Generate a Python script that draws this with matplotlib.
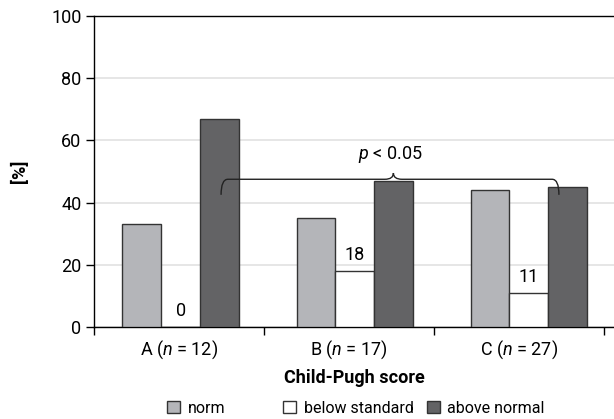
import numpy as np
import matplotlib
matplotlib.use("Agg")
import matplotlib.pyplot as plt
from matplotlib.path import Path
from matplotlib.patches import PathPatch, Patch

plt.rcParams["font.family"] = ["Roboto", "DejaVu Sans"]
plt.rcParams["mathtext.fontset"] = "custom"
plt.rcParams["mathtext.it"] = "Roboto:italic"
plt.rcParams["mathtext.rm"] = "Roboto"

groups     = [r"A ($\it{n}$ = 12)", r"B ($\it{n}$ = 17)", r"C ($\it{n}$ = 27)"]
norm       = [33, 35, 44]
below      = [0, 18, 11]
above      = [67, 47, 45]
series_lbl = ["norm", "below standard", "above normal"]
colors     = ["#b4b5b9", "#ffffff", "#636365"]
yticks     = [0, 20, 40, 60, 80, 100]

fig = plt.figure(figsize=(6.14, 4.19), dpi=100)
ax  = fig.add_axes([0.153, 0.2196, 0.847, 0.7422])

x  = np.arange(len(groups))
bx = x * 1.024 + 0.01      # bar groups sit slightly off the label centres, as in the original
bw = 0.228
for i, vals in enumerate([norm, below, above]):
    ax.bar(bx + (i - 1) * bw, vals, width=bw, color=colors[i], edgecolor="#333333", linewidth=1.0, zorder=3)

for xi, v in zip(bx, below):
    ax.annotate("%d" % v, (xi, v), xytext=(0, 5), textcoords="offset points",
                ha="center", va="bottom", fontsize=13, zorder=5)

# significance bracket between "above normal" bars of A and C
xa, xb, xc = bx[0] + bw + 0.01, bx[1] + bw, bx[2] + bw - 0.05
yb  = 47.5
hk  = 5.0
dx  = 0.04
verts = [(xa, yb - hk), (xa, yb), (xa + dx, yb),
         (xb - 0.05, yb), (xb, yb), (xb, yb + 2.0),
         (xb, yb), (xb + 0.05, yb),
         (xc - dx, yb), (xc, yb), (xc, yb - hk)]
codes = [Path.MOVETO, Path.CURVE3, Path.CURVE3,
         Path.LINETO, Path.CURVE3, Path.CURVE3,
         Path.CURVE3, Path.CURVE3,
         Path.LINETO, Path.CURVE3, Path.CURVE3]
ax.add_patch(PathPatch(Path(verts, codes), facecolor="none", edgecolor="#222222", lw=1.0, zorder=4))
ax.text(xb - 0.02, yb + 4.5, r"$\it{p}$ < 0.05", ha="center", va="bottom", fontsize=13)

ax.set_xlim(-0.5, 2.56)
ax.set_ylim(0, 100)
ax.set_yticks(yticks)
ax.tick_params(axis="y", labelsize=13, length=6, width=1.0, direction="out", pad=3)
ax.set_xticks(x)
ax.set_xticklabels(groups, fontsize=13)
ax.set_xticks([-0.5, 0.5, 1.5, 2.5], minor=True)
ax.tick_params(axis="x", which="major", length=0, pad=8)
ax.tick_params(axis="x", which="minor", length=6, width=1.0, direction="out")
ax.yaxis.grid(True, color="#e2e2e2", lw=1.2, zorder=0)
ax.set_axisbelow(True)
ax.spines["right"].set_visible(False)
for s in ["left", "top", "bottom"]:
    ax.spines[s].set_linewidth(1.0)

ax.set_xlabel("Child-Pugh score", fontsize=13, fontweight="bold", labelpad=6)
ax.set_ylabel("[%]", fontsize=13, fontweight="bold", labelpad=16)

leg_x = [0.272, 0.461, 0.695]
for i in range(3):
    h = Patch(facecolor=colors[i], edgecolor="#333333", lw=1.0)
    fig.legend([h], [series_lbl[i]], loc="center left", bbox_to_anchor=(leg_x[i], 0.026),
               frameon=False, fontsize=11.5, handlelength=0.8, handleheight=0.8,
               handletextpad=0.5, borderaxespad=0, borderpad=0)

fig.savefig("out.png", dpi=100)
